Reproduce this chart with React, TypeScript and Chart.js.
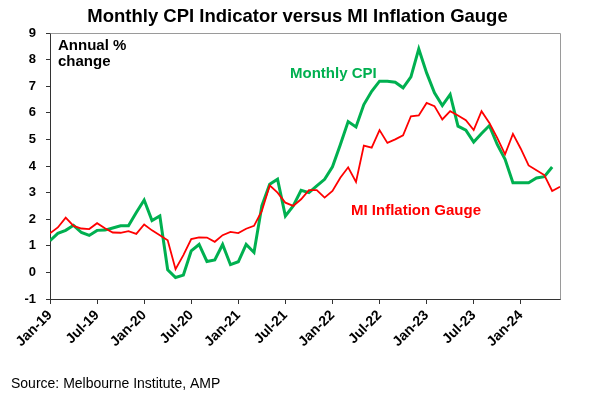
import React, { useEffect, useRef } from 'react';
import { Chart, registerables } from 'chart.js';

Chart.register(...registerables);

const months: string[] = [
  'Jan-19', 'Feb-19', 'Mar-19', 'Apr-19', 'May-19', 'Jun-19', 'Jul-19', 'Aug-19', 'Sep-19', 'Oct-19', 'Nov-19', 'Dec-19',
  'Jan-20', 'Feb-20', 'Mar-20', 'Apr-20', 'May-20', 'Jun-20', 'Jul-20', 'Aug-20', 'Sep-20', 'Oct-20', 'Nov-20', 'Dec-20',
  'Jan-21', 'Feb-21', 'Mar-21', 'Apr-21', 'May-21', 'Jun-21', 'Jul-21', 'Aug-21', 'Sep-21', 'Oct-21', 'Nov-21', 'Dec-21',
  'Jan-22', 'Feb-22', 'Mar-22', 'Apr-22', 'May-22', 'Jun-22', 'Jul-22', 'Aug-22', 'Sep-22', 'Oct-22', 'Nov-22', 'Dec-22',
  'Jan-23', 'Feb-23', 'Mar-23', 'Apr-23', 'May-23', 'Jun-23', 'Jul-23', 'Aug-23', 'Sep-23', 'Oct-23', 'Nov-23', 'Dec-23',
  'Jan-24', 'Feb-24', 'Mar-24', 'Apr-24', 'May-24', 'Jun-24',
];

const tickLabels: string[] = [
  'Jan-19', 'Jul-19', 'Jan-20', 'Jul-20', 'Jan-21', 'Jul-21', 'Jan-22', 'Jul-22', 'Jan-23', 'Jul-23', 'Jan-24',
];

const monthlyCPI: number[] = [
  1.19, 1.47, 1.58, 1.77, 1.5, 1.39, 1.58, 1.59, 1.67, 1.75, 1.75, 2.25,
  2.72, 1.95, 2.12, 0.1, -0.19, -0.1, 0.81, 1.05, 0.41, 0.47, 1.05, 0.29,
  0.4, 1.05, 0.75, 2.5, 3.31, 3.5, 2.12, 2.5, 3.09, 3.0, 3.25, 3.5,
  3.97, 4.8, 5.67, 5.47, 6.31, 6.81, 7.19, 7.19, 7.15, 6.94, 7.35, 8.4,
  7.5, 6.75, 6.27, 6.69, 5.5, 5.35, 4.9, 5.22, 5.52, 4.81, 4.25, 3.37,
  3.37, 3.37, 3.55, 3.6, 3.96,
];

const miGauge: number[] = [
  1.47, 1.69, 2.06, 1.75, 1.65, 1.63, 1.85, 1.66, 1.5, 1.49, 1.55, 1.45,
  1.8, 1.58, 1.4, 1.21, 0.12, 0.65, 1.25, 1.32, 1.31, 1.15, 1.4, 1.52,
  1.48, 1.64, 1.75, 2.31, 3.27, 3.0, 2.62, 2.5, 2.75, 3.09, 3.09, 2.81,
  3.06, 3.56, 3.95, 3.4, 4.77, 4.69, 5.35, 4.87, 5.0, 5.15, 5.87, 5.9,
  6.37, 6.25, 5.75, 6.06, 5.9, 5.72, 5.35, 6.06, 5.62, 5.06, 4.44, 5.21,
  4.65, 4.02, 3.84, 3.66, 3.06, 3.22,
];

const yMin = -1;
const yMax = 9;

const FONT = '"Liberation Sans", Arial, Helvetica, sans-serif';

const textPlugin = {
  id: 'annotText',
  afterDraw(chart: any) {
    const ctx = chart.ctx;
    const a = chart.chartArea;
    ctx.save();
    // top/right frame
    ctx.strokeStyle = '#9a9a9a';
    ctx.lineWidth = 1;
    ctx.beginPath();
    ctx.moveTo(Math.round(a.left) + 0.5, Math.round(a.top) + 0.5);
    ctx.lineTo(Math.round(a.right) + 0.5, Math.round(a.top) + 0.5);
    ctx.lineTo(Math.round(a.right) + 0.5, Math.round(a.bottom) + 0.5);
    ctx.stroke();

    ctx.textBaseline = 'alphabetic';
    ctx.fillStyle = '#000';
    ctx.textAlign = 'center';
    ctx.font = `bold 18.5px ${FONT}`;
    ctx.fillText('Monthly CPI Indicator versus MI Inflation Gauge', 297.5, 22);

    ctx.textAlign = 'left';
    ctx.font = `bold 15px ${FONT}`;
    ctx.fillText('Annual %', 58, 50);
    ctx.fillText('change', 58, 66);

    ctx.fillStyle = '#00B050';
    ctx.fillText('Monthly CPI', 290, 78);
    ctx.fillStyle = '#FF0000';
    ctx.fillText('MI Inflation Gauge', 351, 215);

    ctx.fillStyle = '#000';
    ctx.font = `14px ${FONT}`;
    ctx.fillText('Source: Melbourne Institute, AMP', 11, 388);
    ctx.restore();
  },
};

export default function App() {
  const ref = useRef<HTMLCanvasElement | null>(null);

  useEffect(() => {
    document.body.style.margin = '0';
    const canvas = ref.current;
    if (!canvas) return;
    const chart = new Chart(canvas, {
      type: 'line',
      data: {
        datasets: [
          {
            label: 'MI Inflation Gauge',
            data: miGauge.map((y, i) => ({ x: i, y })),
            borderColor: '#FF0000',
            borderWidth: 1.8,
            pointRadius: 0,
            tension: 0,
            fill: false,
          },
          {
            label: 'Monthly CPI',
            data: monthlyCPI.map((y, i) => ({ x: i, y })),
            borderColor: '#00B050',
            borderWidth: 3,
            pointRadius: 0,
            tension: 0,
            fill: false,
          },
        ],
      },
      options: {
        animation: false,
        responsive: false,
        devicePixelRatio: 1,
        layout: { padding: { left: 0, right: 29, top: 33, bottom: 0 } },
        plugins: {
          legend: { display: false },
          title: { display: false },
          tooltip: { enabled: false },
        },
        scales: {
          x: {
            type: 'linear',
            min: 0,
            max: months.length - 1,
            afterBuildTicks: (scale: any) => {
              scale.ticks = tickLabels.map((l) => ({ value: months.indexOf(l) }));
            },
            afterFit: (scale: any) => {
              scale.height = 106;
            },
            grid: {
              drawOnChartArea: false,
              drawTicks: true,
              tickLength: 5,
              color: '#333',
            },
            border: { display: true, color: '#333', width: 1 },
            ticks: {
              autoSkip: false,
              maxRotation: 45,
              minRotation: 45,
              padding: 3,
              color: '#000',
              font: { family: FONT, size: 14, weight: 'bold' },
              callback: (v: any) => months[Number(v)] ?? '',
            },
          },
          y: {
            min: yMin,
            max: yMax,
            afterFit: (scale: any) => {
              scale.width = 50;
            },
            grid: {
              drawOnChartArea: false,
              drawTicks: true,
              tickLength: 4,
              color: '#333',
            },
            border: { display: true, color: '#333', width: 1 },
            ticks: {
              stepSize: 1,
              padding: 10,
              color: '#000',
              font: { family: FONT, size: 13, weight: 'bold' },
            },
          },
        },
      },
      plugins: [textPlugin],
    } as any);
    return () => chart.destroy();
  }, []);

  return (
    <div style={{ width: 589, height: 405, background: '#fff' }}>
      <canvas ref={ref} width={589} height={405} style={{ width: 589, height: 405, display: 'block' }} />
    </div>
  );
}
